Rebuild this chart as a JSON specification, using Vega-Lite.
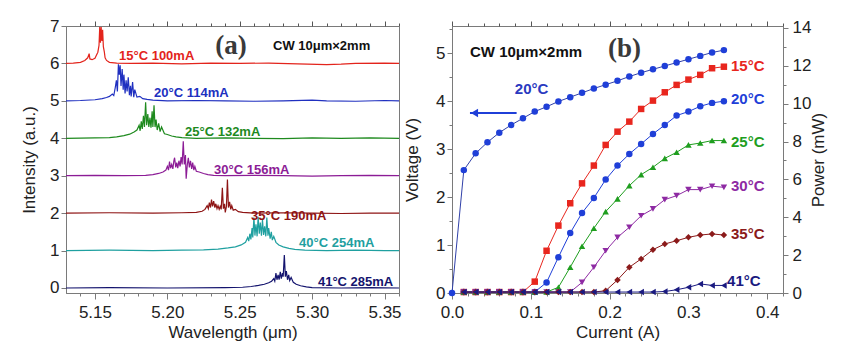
{
"$schema": "https://vega.github.io/schema/vega-lite/v6.json",
"background": "white",
"padding": {"left": 20, "top": 16, "right": 5, "bottom": 5},
"config": {
  "view": {"stroke": "#7a7a7a", "strokeWidth": 1},
  "font": "Liberation Sans",
  "axis": {"labelFont": "Liberation Sans", "titleFont": "Liberation Sans", "labelFontSize": 17, "titleFontSize": 17, "titleFontWeight": "normal", "labelColor": "#222222", "titleColor": "#222222", "domainColor": "#7a7a7a", "tickColor": "#7a7a7a", "grid": false, "labelFlush": false, "labelOverlap": false}
},
"spacing": 1,
"resolve": {"scale": {"color": "independent", "shape": "independent"}},
"hconcat": [
{
  "width": 333, "height": 267,
  "resolve": {"axis": {"x": "independent"}},
  "layer": [
    {
      "data": {"values": [
        {"s":"15","w":5.130,"i":6.00},{"s":"15","w":5.135,"i":6.01},{"s":"15","w":5.140,"i":6.03},{"s":"15","w":5.143,"i":6.08},{"s":"15","w":5.145,"i":6.15},{"s":"15","w":5.146,"i":6.26},{"s":"15","w":5.1465,"i":6.12},{"s":"15","w":5.148,"i":6.10},{"s":"15","w":5.150,"i":6.14},{"s":"15","w":5.151,"i":6.22},{"s":"15","w":5.152,"i":6.30},{"s":"15","w":5.1528,"i":6.48},{"s":"15","w":5.1533,"i":6.97},{"s":"15","w":5.1538,"i":6.55},{"s":"15","w":5.1543,"i":6.97},{"s":"15","w":5.1548,"i":6.60},{"s":"15","w":5.1553,"i":6.90},{"s":"15","w":5.1558,"i":6.45},{"s":"15","w":5.1565,"i":6.30},{"s":"15","w":5.157,"i":6.15},{"s":"15","w":5.158,"i":6.08},{"s":"15","w":5.160,"i":6.03},{"s":"15","w":5.165,"i":6.01},{"s":"15","w":5.175,"i":6.00},{"s":"15","w":5.19,"i":6.01},{"s":"15","w":5.21,"i":5.99},{"s":"15","w":5.23,"i":6.01},{"s":"15","w":5.25,"i":6.00},{"s":"15","w":5.27,"i":6.01},{"s":"15","w":5.29,"i":5.99},{"s":"15","w":5.31,"i":5.97},{"s":"15","w":5.32,"i":5.98},{"s":"15","w":5.33,"i":6.00},{"s":"15","w":5.35,"i":6.01},{"s":"15","w":5.36,"i":6.00},
        {"s":"20","w":5.130,"i":5.00},{"s":"20","w":5.14,"i":5.01},{"s":"20","w":5.15,"i":5.03},{"s":"20","w":5.155,"i":5.06},{"s":"20","w":5.158,"i":5.09},{"s":"20","w":5.160,"i":5.12},{"s":"20","w":5.162,"i":5.18},{"s":"20","w":5.163,"i":5.14},{"s":"20","w":5.164,"i":5.35},{"s":"20","w":5.1648,"i":5.55},{"s":"20","w":5.1655,"i":5.25},{"s":"20","w":5.1662,"i":5.98},{"s":"20","w":5.1668,"i":5.70},{"s":"20","w":5.1674,"i":5.95},{"s":"20","w":5.168,"i":5.40},{"s":"20","w":5.1688,"i":5.85},{"s":"20","w":5.1695,"i":5.30},{"s":"20","w":5.170,"i":5.70},{"s":"20","w":5.1708,"i":5.20},{"s":"20","w":5.1715,"i":5.55},{"s":"20","w":5.1722,"i":5.25},{"s":"20","w":5.173,"i":5.63},{"s":"20","w":5.1738,"i":5.15},{"s":"20","w":5.1745,"i":5.40},{"s":"20","w":5.175,"i":5.12},{"s":"20","w":5.176,"i":5.50},{"s":"20","w":5.1768,"i":5.10},{"s":"20","w":5.1775,"i":5.30},{"s":"20","w":5.179,"i":5.10},{"s":"20","w":5.181,"i":5.12},{"s":"20","w":5.183,"i":5.06},{"s":"20","w":5.186,"i":5.04},{"s":"20","w":5.19,"i":5.02},{"s":"20","w":5.20,"i":5.00},{"s":"20","w":5.22,"i":5.01},{"s":"20","w":5.24,"i":5.00},{"s":"20","w":5.26,"i":4.99},{"s":"20","w":5.28,"i":5.00},{"s":"20","w":5.30,"i":5.02},{"s":"20","w":5.31,"i":5.00},{"s":"20","w":5.33,"i":4.99},{"s":"20","w":5.35,"i":5.01},{"s":"20","w":5.36,"i":5.00},
        {"s":"25","w":5.130,"i":4.00},{"s":"25","w":5.15,"i":4.01},{"s":"25","w":5.16,"i":4.02},{"s":"25","w":5.165,"i":4.04},{"s":"25","w":5.170,"i":4.07},{"s":"25","w":5.174,"i":4.11},{"s":"25","w":5.177,"i":4.17},{"s":"25","w":5.179,"i":4.22},{"s":"25","w":5.1805,"i":4.35},{"s":"25","w":5.1812,"i":4.20},{"s":"25","w":5.182,"i":4.45},{"s":"25","w":5.1827,"i":4.25},{"s":"25","w":5.1835,"i":4.60},{"s":"25","w":5.1842,"i":4.30},{"s":"25","w":5.185,"i":4.96},{"s":"25","w":5.1857,"i":4.35},{"s":"25","w":5.1865,"i":4.65},{"s":"25","w":5.1872,"i":4.30},{"s":"25","w":5.188,"i":4.55},{"s":"25","w":5.1887,"i":4.28},{"s":"25","w":5.1895,"i":4.72},{"s":"25","w":5.190,"i":4.30},{"s":"25","w":5.1908,"i":4.88},{"s":"25","w":5.1915,"i":4.30},{"s":"25","w":5.1922,"i":4.50},{"s":"25","w":5.193,"i":4.22},{"s":"25","w":5.194,"i":4.40},{"s":"25","w":5.195,"i":4.18},{"s":"25","w":5.196,"i":4.30},{"s":"25","w":5.198,"i":4.12},{"s":"25","w":5.200,"i":4.10},{"s":"25","w":5.203,"i":4.06},{"s":"25","w":5.206,"i":4.04},{"s":"25","w":5.210,"i":4.02},{"s":"25","w":5.22,"i":4.00},{"s":"25","w":5.24,"i":4.01},{"s":"25","w":5.26,"i":4.00},{"s":"25","w":5.28,"i":3.99},{"s":"25","w":5.30,"i":4.01},{"s":"25","w":5.32,"i":4.00},{"s":"25","w":5.34,"i":4.01},{"s":"25","w":5.36,"i":4.00},
        {"s":"30","w":5.130,"i":3.00},{"s":"30","w":5.15,"i":3.01},{"s":"30","w":5.17,"i":3.00},{"s":"30","w":5.185,"i":3.01},{"s":"30","w":5.19,"i":3.03},{"s":"30","w":5.194,"i":3.06},{"s":"30","w":5.197,"i":3.10},{"s":"30","w":5.199,"i":3.15},{"s":"30","w":5.200,"i":3.25},{"s":"30","w":5.2008,"i":3.15},{"s":"30","w":5.2015,"i":3.38},{"s":"30","w":5.2022,"i":3.20},{"s":"30","w":5.203,"i":3.30},{"s":"30","w":5.2038,"i":3.18},{"s":"30","w":5.2045,"i":3.40},{"s":"30","w":5.205,"i":3.48},{"s":"30","w":5.2058,"i":3.22},{"s":"30","w":5.2065,"i":3.35},{"s":"30","w":5.2072,"i":3.20},{"s":"30","w":5.208,"i":3.40},{"s":"30","w":5.2088,"i":3.25},{"s":"30","w":5.2095,"i":3.50},{"s":"30","w":5.2102,"i":3.30},{"s":"30","w":5.211,"i":3.92},{"s":"30","w":5.2117,"i":3.30},{"s":"30","w":5.2125,"i":3.55},{"s":"30","w":5.213,"i":2.92},{"s":"30","w":5.2138,"i":3.30},{"s":"30","w":5.2145,"i":3.48},{"s":"30","w":5.2152,"i":3.22},{"s":"30","w":5.216,"i":3.40},{"s":"30","w":5.2168,"i":3.18},{"s":"30","w":5.2175,"i":3.35},{"s":"30","w":5.2183,"i":3.15},{"s":"30","w":5.219,"i":3.25},{"s":"30","w":5.220,"i":3.12},{"s":"30","w":5.222,"i":3.10},{"s":"30","w":5.225,"i":3.06},{"s":"30","w":5.228,"i":3.03},{"s":"30","w":5.232,"i":3.01},{"s":"30","w":5.24,"i":3.00},{"s":"30","w":5.26,"i":3.01},{"s":"30","w":5.28,"i":3.00},{"s":"30","w":5.30,"i":2.99},{"s":"30","w":5.32,"i":3.00},{"s":"30","w":5.34,"i":3.01},{"s":"30","w":5.36,"i":3.00},
        {"s":"35","w":5.130,"i":2.00},{"s":"35","w":5.16,"i":2.01},{"s":"35","w":5.19,"i":2.00},{"s":"35","w":5.21,"i":2.01},{"s":"35","w":5.22,"i":2.02},{"s":"35","w":5.224,"i":2.05},{"s":"35","w":5.226,"i":2.10},{"s":"35","w":5.2275,"i":2.20},{"s":"35","w":5.2283,"i":2.12},{"s":"35","w":5.229,"i":2.28},{"s":"35","w":5.2298,"i":2.15},{"s":"35","w":5.2305,"i":2.36},{"s":"35","w":5.2312,"i":2.18},{"s":"35","w":5.232,"i":2.32},{"s":"35","w":5.2328,"i":2.15},{"s":"35","w":5.2335,"i":2.25},{"s":"35","w":5.2343,"i":2.12},{"s":"35","w":5.235,"i":2.20},{"s":"35","w":5.2358,"i":2.10},{"s":"35","w":5.2365,"i":2.18},{"s":"35","w":5.2372,"i":2.10},{"s":"35","w":5.238,"i":2.68},{"s":"35","w":5.2387,"i":2.12},{"s":"35","w":5.2395,"i":2.25},{"s":"35","w":5.240,"i":2.02},{"s":"35","w":5.2408,"i":2.18},{"s":"35","w":5.2415,"i":2.90},{"s":"35","w":5.2422,"i":2.15},{"s":"35","w":5.243,"i":2.30},{"s":"35","w":5.2438,"i":2.10},{"s":"35","w":5.2445,"i":2.20},{"s":"35","w":5.2455,"i":2.08},{"s":"35","w":5.247,"i":2.10},{"s":"35","w":5.249,"i":2.04},{"s":"35","w":5.252,"i":2.02},{"s":"35","w":5.26,"i":2.00},{"s":"35","w":5.28,"i":2.01},{"s":"35","w":5.30,"i":2.00},{"s":"35","w":5.32,"i":1.99},{"s":"35","w":5.34,"i":2.00},{"s":"35","w":5.36,"i":2.00},
        {"s":"40","w":5.130,"i":1.00},{"s":"40","w":5.16,"i":1.01},{"s":"40","w":5.19,"i":1.00},{"s":"40","w":5.21,"i":1.01},{"s":"40","w":5.225,"i":1.02},{"s":"40","w":5.235,"i":1.04},{"s":"40","w":5.242,"i":1.07},{"s":"40","w":5.247,"i":1.10},{"s":"40","w":5.251,"i":1.15},{"s":"40","w":5.254,"i":1.22},{"s":"40","w":5.2555,"i":1.35},{"s":"40","w":5.2562,"i":1.25},{"s":"40","w":5.257,"i":1.45},{"s":"40","w":5.2577,"i":1.30},{"s":"40","w":5.2585,"i":1.60},{"s":"40","w":5.259,"i":1.35},{"s":"40","w":5.2598,"i":1.88},{"s":"40","w":5.2605,"i":1.40},{"s":"40","w":5.2612,"i":1.70},{"s":"40","w":5.262,"i":1.38},{"s":"40","w":5.2627,"i":1.90},{"s":"40","w":5.2635,"i":1.45},{"s":"40","w":5.2642,"i":1.75},{"s":"40","w":5.265,"i":1.40},{"s":"40","w":5.2657,"i":1.82},{"s":"40","w":5.2665,"i":1.42},{"s":"40","w":5.2672,"i":1.65},{"s":"40","w":5.268,"i":1.38},{"s":"40","w":5.2687,"i":1.88},{"s":"40","w":5.2695,"i":1.40},{"s":"40","w":5.270,"i":1.60},{"s":"40","w":5.271,"i":1.32},{"s":"40","w":5.2718,"i":1.50},{"s":"40","w":5.2725,"i":1.28},{"s":"40","w":5.2735,"i":1.38},{"s":"40","w":5.275,"i":1.22},{"s":"40","w":5.277,"i":1.15},{"s":"40","w":5.280,"i":1.10},{"s":"40","w":5.284,"i":1.06},{"s":"40","w":5.288,"i":1.03},{"s":"40","w":5.295,"i":1.01},{"s":"40","w":5.31,"i":1.00},{"s":"40","w":5.33,"i":1.01},{"s":"40","w":5.35,"i":1.00},{"s":"40","w":5.36,"i":1.00},
        {"s":"41","w":5.130,"i":0.00},{"s":"41","w":5.16,"i":0.01},{"s":"41","w":5.20,"i":0.00},{"s":"41","w":5.24,"i":0.01},{"s":"41","w":5.252,"i":0.02},{"s":"41","w":5.258,"i":0.04},{"s":"41","w":5.263,"i":0.07},{"s":"41","w":5.267,"i":0.10},{"s":"41","w":5.270,"i":0.14},{"s":"41","w":5.272,"i":0.18},{"s":"41","w":5.2735,"i":0.25},{"s":"41","w":5.2742,"i":0.18},{"s":"41","w":5.275,"i":0.40},{"s":"41","w":5.2757,"i":0.22},{"s":"41","w":5.2765,"i":0.35},{"s":"41","w":5.2772,"i":0.22},{"s":"41","w":5.278,"i":0.43},{"s":"41","w":5.2787,"i":0.25},{"s":"41","w":5.2795,"i":0.40},{"s":"41","w":5.280,"i":0.30},{"s":"41","w":5.2808,"i":0.88},{"s":"41","w":5.2815,"i":0.30},{"s":"41","w":5.2822,"i":0.45},{"s":"41","w":5.283,"i":0.22},{"s":"41","w":5.2838,"i":0.35},{"s":"41","w":5.2845,"i":0.20},{"s":"41","w":5.2855,"i":0.28},{"s":"41","w":5.287,"i":0.15},{"s":"41","w":5.289,"i":0.10},{"s":"41","w":5.292,"i":0.06},{"s":"41","w":5.296,"i":0.03},{"s":"41","w":5.30,"i":0.01},{"s":"41","w":5.32,"i":0.00},{"s":"41","w":5.34,"i":0.01},{"s":"41","w":5.36,"i":0.00}
      ]},
      "mark": {"type": "line", "strokeWidth": 1.2},
      "encoding": {
        "x": {"field": "w", "type": "quantitative", "scale": {"domain": [5.13, 5.36], "nice": false, "zero": false},
              "axis": {"title": "Wavelength (μm)", "tickCount": 100, "values": [5.14,5.15,5.16,5.17,5.18,5.19,5.2,5.21,5.22,5.23,5.24,5.25,5.26,5.27,5.28,5.29,5.3,5.31,5.32,5.33,5.34,5.35,5.36],
                       "labelExpr": "round(datum.value*100)%5==0 ? format(datum.value,'.2f') : ''", "labelOverlap": false,
                       "tickSize": {"condition": {"test": "round(datum.value*100)%5==0", "value": 6}, "value": 3},
                       "labelPadding": 5, "titlePadding": 4}},
        "y": {"field": "i", "type": "quantitative", "scale": {"domain": [-0.134, 7], "nice": false, "zero": false},
              "axis": {"title": "Intensity (a.u.)", "tickCount": 100, "format": "d", "values": [0,1,2,3,4,5,6,7], "labelOverlap": false, "tickSize": 5, "labelPadding": 2, "titlePadding": 11}},
        "color": {"field": "s", "type": "nominal", "legend": null,
                  "scale": {"domain": ["15","20","25","30","35","40","41"], "range": ["#e3241c","#2030c0","#1e8a1e","#8c1c96","#8e1414","#1fa0a0","#14146e"]}}
      }
    },
    {
      "data": {"values": [
        {"s":"15","t":"15°C  100mA","w":5.1666,"i":6.19},
        {"s":"20","t":"20°C  114mA","w":5.1908,"i":5.20},
        {"s":"25","t":"25°C  132mA","w":5.2122,"i":4.18},
        {"s":"30","t":"30°C  156mA","w":5.2323,"i":3.16},
        {"s":"35","t":"35°C  190mA","w":5.2578,"i":1.93},
        {"s":"40","t":"40°C  254mA","w":5.2910,"i":1.21},
        {"s":"41","t":"41°C  285mA","w":5.3040,"i":0.16}
      ]},
      "mark": {"type": "text", "align": "left", "baseline": "middle", "fontSize": 13, "fontWeight": "bold", "font": "Liberation Sans"},
      "encoding": {
        "x": {"field": "w", "type": "quantitative", "axis": {"orient": "top", "title": null, "labels": false, "domain": false, "tickCount": 100, "tickColor": "#555555",
              "values": [5.14,5.15,5.16,5.17,5.18,5.19,5.2,5.21,5.22,5.23,5.24,5.25,5.26,5.27,5.28,5.29,5.3,5.31,5.32,5.33,5.34,5.35,5.36],
              "tickSize": {"condition": {"test": "round(datum.value*100)%5==0", "value": 5}, "value": 3}}},
        "y": {"field": "i", "type": "quantitative"},
        "text": {"field": "t"},
        "color": {"field": "s", "type": "nominal", "legend": null}
      }
    },
    {
      "data": {"values": [{"t":"(a)","w":5.244,"i":6.46}]},
      "mark": {"type": "text", "align": "center", "baseline": "middle", "fontSize": 27, "fontWeight": "bold", "font": "Liberation Serif", "color": "#3a3a3a"},
      "encoding": {"x": {"field": "w", "type": "quantitative", "axis": null}, "y": {"field": "i", "type": "quantitative"}, "text": {"field": "t"}}
    },
    {
      "data": {"values": [{"t":"CW   10μm×2mm","w":5.273,"i":6.46}]},
      "mark": {"type": "text", "align": "left", "baseline": "middle", "fontSize": 13, "fontWeight": "bold", "font": "Liberation Sans", "color": "#111111"},
      "encoding": {"x": {"field": "w", "type": "quantitative", "axis": null}, "y": {"field": "i", "type": "quantitative"}, "text": {"field": "t"}}
    }
  ]
},
{
  "width": 331, "height": 267,
  "resolve": {"scale": {"y": "independent"}, "axis": {"x": "independent"}},
  "layer": [
    {
      "layer": [
        {
          "data": {"values": [
            {"c":0,"v":0},{"c":0.015,"v":2.56},{"c":0.03,"v":2.91},{"c":0.045,"v":3.14},{"c":0.06,"v":3.34},{"c":0.075,"v":3.50},{"c":0.09,"v":3.64},{"c":0.105,"v":3.78},{"c":0.12,"v":3.88},{"c":0.135,"v":3.99},{"c":0.15,"v":4.08},{"c":0.165,"v":4.17},{"c":0.18,"v":4.26},{"c":0.195,"v":4.34},{"c":0.21,"v":4.42},{"c":0.225,"v":4.51},{"c":0.24,"v":4.59},{"c":0.255,"v":4.66},{"c":0.27,"v":4.73},{"c":0.285,"v":4.80},{"c":0.30,"v":4.87},{"c":0.315,"v":4.94},{"c":0.33,"v":5.01},{"c":0.345,"v":5.06}
          ]},
          "layer": [
            {
              "mark": {"type": "line", "strokeWidth": 1, "color": "#3040a8"},
              "encoding": {
                "x": {"field": "c", "type": "quantitative", "scale": {"domain": [0, 0.42], "nice": false, "zero": false},
                      "axis": {"title": "Current (A)", "tickCount": 100, "values": [0,0.02,0.04,0.06,0.08,0.1,0.12,0.14,0.16,0.18,0.2,0.22,0.24,0.26,0.28,0.3,0.32,0.34,0.36,0.38,0.4,0.42],
                               "labelExpr": "round(datum.value*100)%10==0 ? format(datum.value,'.1f') : ''", "labelOverlap": false,
                               "tickSize": {"condition": {"test": "round(datum.value*100)%10==0", "value": 6}, "value": 3},
                               "labelPadding": 5, "titlePadding": 4}},
                "y": {"field": "v", "type": "quantitative", "scale": {"domain": [0, 5.5625], "nice": false, "zero": false},
                      "axis": {"title": "Voltage (V)", "tickCount": 100, "values": [0,0.5,1,1.5,2,2.5,3,3.5,4,4.5,5,5.5],
                               "labelExpr": "datum.value%1==0 ? format(datum.value,'d') : ''", "labelOverlap": false,
                               "tickSize": {"condition": {"test": "datum.value%1==0", "value": 5}, "value": 3},
                               "labelPadding": 2, "titlePadding": 14}}
              }
            },
            {
              "mark": {"type": "point", "filled": true, "shape": "circle", "size": 42, "opacity": 1, "color": "#1f3fd8"},
              "encoding": {
                "x": {"field": "c", "type": "quantitative"},
                "y": {"field": "v", "type": "quantitative"}
              }
            }
          ]
        },
        {
          "data": {"values": [{"c":0.0228,"c2":0.082,"v":3.75}]},
          "mark": {"type": "rule", "strokeWidth": 2, "color": "#1f3fd8"},
          "encoding": {"x": {"field": "c", "type": "quantitative"}, "x2": {"field": "c2"}, "y": {"field": "v", "type": "quantitative"}}
        },
        {
          "data": {"values": [{"c":0.0285,"v":3.75}]},
          "mark": {"type": "point", "shape": "triangle-left", "filled": true, "size": 70, "opacity": 1, "color": "#1f3fd8"},
          "encoding": {"x": {"field": "c", "type": "quantitative"}, "y": {"field": "v", "type": "quantitative"}}
        },
        {
          "data": {"values": [{"t":"20°C","c":0.101,"v":4.25}]},
          "mark": {"type": "text", "align": "center", "baseline": "middle", "fontSize": 15, "fontWeight": "bold", "font": "Liberation Sans", "color": "#2a3ac0"},
          "encoding": {"x": {"field": "c", "type": "quantitative"}, "y": {"field": "v", "type": "quantitative"}, "text": {"field": "t"}}
        },
        {
          "data": {"values": [{"t":"CW  10μm×2mm","c":0.0228,"v":5.02}]},
          "mark": {"type": "text", "align": "left", "baseline": "middle", "fontSize": 15, "fontWeight": "bold", "font": "Liberation Sans", "color": "#111111"},
          "encoding": {"x": {"field": "c", "type": "quantitative"}, "y": {"field": "v", "type": "quantitative"}, "text": {"field": "t"}}
        },
        {
          "data": {"values": [{"t":"(b)","c":0.219,"v":5.08}]},
          "mark": {"type": "text", "align": "center", "baseline": "middle", "fontSize": 27, "fontWeight": "bold", "font": "Liberation Serif", "color": "#3a3a3a"},
          "encoding": {"x": {"field": "c", "type": "quantitative"}, "y": {"field": "v", "type": "quantitative"}, "text": {"field": "t"}}
        }
      ]
    },
    {
      "layer": [
        {
          "data": {"values": [
            {"T":"15°C","c":0.015,"p":0.05},{"T":"15°C","c":0.03,"p":0.05},{"T":"15°C","c":0.045,"p":0.05},{"T":"15°C","c":0.06,"p":0.05},{"T":"15°C","c":0.075,"p":0.05},{"T":"15°C","c":0.09,"p":0.05},{"T":"15°C","c":0.105,"p":0.60},{"T":"15°C","c":0.12,"p":2.23},{"T":"15°C","c":0.135,"p":3.56},{"T":"15°C","c":0.15,"p":4.74},{"T":"15°C","c":0.165,"p":5.79},{"T":"15°C","c":0.18,"p":6.73},{"T":"15°C","c":0.195,"p":7.82},{"T":"15°C","c":0.21,"p":8.52},{"T":"15°C","c":0.225,"p":9.05},{"T":"15°C","c":0.24,"p":9.72},{"T":"15°C","c":0.255,"p":10.16},{"T":"15°C","c":0.27,"p":10.60},{"T":"15°C","c":0.285,"p":10.99},{"T":"15°C","c":0.30,"p":11.27},{"T":"15°C","c":0.315,"p":11.52},{"T":"15°C","c":0.33,"p":11.87},{"T":"15°C","c":0.345,"p":11.95},
            {"T":"20°C","c":0.015,"p":0.05},{"T":"20°C","c":0.03,"p":0.05},{"T":"20°C","c":0.045,"p":0.05},{"T":"20°C","c":0.06,"p":0.05},{"T":"20°C","c":0.075,"p":0.05},{"T":"20°C","c":0.09,"p":0.05},{"T":"20°C","c":0.105,"p":0.05},{"T":"20°C","c":0.12,"p":0.56},{"T":"20°C","c":0.135,"p":1.89},{"T":"20°C","c":0.15,"p":3.17},{"T":"20°C","c":0.165,"p":4.23},{"T":"20°C","c":0.18,"p":5.02},{"T":"20°C","c":0.195,"p":5.99},{"T":"20°C","c":0.21,"p":6.73},{"T":"20°C","c":0.225,"p":7.34},{"T":"20°C","c":0.24,"p":7.87},{"T":"20°C","c":0.255,"p":8.40},{"T":"20°C","c":0.27,"p":8.87},{"T":"20°C","c":0.285,"p":9.37},{"T":"20°C","c":0.30,"p":9.58},{"T":"20°C","c":0.315,"p":9.86},{"T":"20°C","c":0.33,"p":10.04},{"T":"20°C","c":0.345,"p":10.13},
            {"T":"25°C","c":0.015,"p":0.05},{"T":"25°C","c":0.03,"p":0.05},{"T":"25°C","c":0.045,"p":0.05},{"T":"25°C","c":0.06,"p":0.05},{"T":"25°C","c":0.075,"p":0.05},{"T":"25°C","c":0.09,"p":0.05},{"T":"25°C","c":0.105,"p":0.05},{"T":"25°C","c":0.12,"p":0.05},{"T":"25°C","c":0.135,"p":0.30},{"T":"25°C","c":0.15,"p":1.36},{"T":"25°C","c":0.165,"p":2.47},{"T":"25°C","c":0.18,"p":3.42},{"T":"25°C","c":0.195,"p":4.30},{"T":"25°C","c":0.21,"p":4.97},{"T":"25°C","c":0.225,"p":5.67},{"T":"25°C","c":0.24,"p":6.25},{"T":"25°C","c":0.255,"p":6.64},{"T":"25°C","c":0.27,"p":7.11},{"T":"25°C","c":0.285,"p":7.43},{"T":"25°C","c":0.30,"p":7.82},{"T":"25°C","c":0.315,"p":7.92},{"T":"25°C","c":0.33,"p":8.05},{"T":"25°C","c":0.345,"p":8.05},
            {"T":"30°C","c":0.015,"p":0.05},{"T":"30°C","c":0.03,"p":0.05},{"T":"30°C","c":0.045,"p":0.05},{"T":"30°C","c":0.06,"p":0.05},{"T":"30°C","c":0.075,"p":0.05},{"T":"30°C","c":0.09,"p":0.05},{"T":"30°C","c":0.105,"p":0.05},{"T":"30°C","c":0.12,"p":0.05},{"T":"30°C","c":0.135,"p":0.05},{"T":"30°C","c":0.15,"p":0.05},{"T":"30°C","c":0.165,"p":0.56},{"T":"30°C","c":0.18,"p":1.36},{"T":"30°C","c":0.195,"p":2.23},{"T":"30°C","c":0.21,"p":2.94},{"T":"30°C","c":0.225,"p":3.47},{"T":"30°C","c":0.24,"p":4.08},{"T":"30°C","c":0.255,"p":4.44},{"T":"30°C","c":0.27,"p":4.93},{"T":"30°C","c":0.285,"p":5.14},{"T":"30°C","c":0.30,"p":5.46},{"T":"30°C","c":0.315,"p":5.46},{"T":"30°C","c":0.33,"p":5.64},{"T":"30°C","c":0.345,"p":5.58},
            {"T":"35°C","c":0.015,"p":0.05},{"T":"35°C","c":0.03,"p":0.05},{"T":"35°C","c":0.045,"p":0.05},{"T":"35°C","c":0.06,"p":0.05},{"T":"35°C","c":0.075,"p":0.05},{"T":"35°C","c":0.09,"p":0.05},{"T":"35°C","c":0.105,"p":0.05},{"T":"35°C","c":0.12,"p":0.05},{"T":"35°C","c":0.135,"p":0.05},{"T":"35°C","c":0.15,"p":0.05},{"T":"35°C","c":0.165,"p":0.05},{"T":"35°C","c":0.18,"p":0.05},{"T":"35°C","c":0.195,"p":0.12},{"T":"35°C","c":0.21,"p":0.69},{"T":"35°C","c":0.225,"p":1.36},{"T":"35°C","c":0.24,"p":1.80},{"T":"35°C","c":0.255,"p":2.29},{"T":"35°C","c":0.27,"p":2.59},{"T":"35°C","c":0.285,"p":2.76},{"T":"35°C","c":0.30,"p":2.94},{"T":"35°C","c":0.315,"p":3.06},{"T":"35°C","c":0.33,"p":3.12},{"T":"35°C","c":0.345,"p":3.06},
            {"T":"41°C","c":0.015,"p":0.05},{"T":"41°C","c":0.03,"p":0.05},{"T":"41°C","c":0.045,"p":0.05},{"T":"41°C","c":0.06,"p":0.05},{"T":"41°C","c":0.075,"p":0.05},{"T":"41°C","c":0.09,"p":0.05},{"T":"41°C","c":0.105,"p":0.05},{"T":"41°C","c":0.12,"p":0.05},{"T":"41°C","c":0.135,"p":0.05},{"T":"41°C","c":0.15,"p":0.05},{"T":"41°C","c":0.165,"p":0.05},{"T":"41°C","c":0.18,"p":0.05},{"T":"41°C","c":0.195,"p":0.05},{"T":"41°C","c":0.21,"p":0.05},{"T":"41°C","c":0.225,"p":0.05},{"T":"41°C","c":0.24,"p":0.05},{"T":"41°C","c":0.255,"p":0.05},{"T":"41°C","c":0.27,"p":0.08},{"T":"41°C","c":0.285,"p":0.17},{"T":"41°C","c":0.30,"p":0.30},{"T":"41°C","c":0.315,"p":0.48},{"T":"41°C","c":0.33,"p":0.40},{"T":"41°C","c":0.345,"p":0.40}
          ]},
          "layer": [
            {
              "mark": {"type": "line", "strokeWidth": 1},
              "encoding": {
                "x": {"field": "c", "type": "quantitative", "scale": {"domain": [0, 0.42], "nice": false, "zero": false},
                      "axis": {"orient": "top", "title": null, "labels": false, "domain": false, "tickCount": 100, "tickColor": "#555555",
                               "values": [0,0.02,0.04,0.06,0.08,0.1,0.12,0.14,0.16,0.18,0.2,0.22,0.24,0.26,0.28,0.3,0.32,0.34,0.36,0.38,0.4,0.42],
                               "tickSize": {"condition": {"test": "round(datum.value*100)%10==0", "value": 5}, "value": 3}}},
                "y": {"field": "p", "type": "quantitative", "scale": {"domain": [0, 14.1], "nice": false, "zero": false},
                      "axis": {"orient": "right", "title": "Power (mW)", "titleAngle": 270, "tickCount": 100, "values": [0,1,2,3,4,5,6,7,8,9,10,11,12,13,14],
                               "labelExpr": "datum.value%2==0 ? format(datum.value,'d') : ''", "labelOverlap": false,
                               "tickSize": {"condition": {"test": "datum.value%2==0", "value": 5}, "value": 3},
                               "labelPadding": 4, "titlePadding": 17}},
                "color": {"field": "T", "type": "nominal", "legend": null,
                          "scale": {"domain": ["15°C","20°C","25°C","30°C","35°C","41°C"], "range": ["#e8261e","#1f3fd8","#1f9e1f","#8e2aa3","#8b1a1a","#1a1a80"]}}
              }
            },
            {
              "mark": {"type": "point", "filled": true, "size": 42, "opacity": 1},
              "encoding": {
                "x": {"field": "c", "type": "quantitative"},
                "y": {"field": "p", "type": "quantitative"},
                "color": {"field": "T", "type": "nominal", "legend": null},
                "shape": {"field": "T", "type": "nominal", "legend": null,
                          "scale": {"domain": ["15°C","20°C","25°C","30°C","35°C","41°C"], "range": ["square","circle","triangle-up","triangle-down","diamond","triangle-left"]}}
              }
            }
          ]
        },
        {
          "data": {"values": [
            {"T":"15°C","c":0.354,"p":12.0},{"T":"20°C","c":0.354,"p":10.25},{"T":"25°C","c":0.354,"p":7.98},{"T":"30°C","c":0.354,"p":5.65},{"T":"35°C","c":0.354,"p":3.12},{"T":"41°C","c":0.349,"p":0.65}
          ]},
          "mark": {"type": "text", "align": "left", "baseline": "middle", "fontSize": 15, "fontWeight": "bold", "font": "Liberation Sans"},
          "encoding": {
            "x": {"field": "c", "type": "quantitative"},
            "y": {"field": "p", "type": "quantitative"},
            "text": {"field": "T"},
            "color": {"field": "T", "type": "nominal", "legend": null}
          }
        }
      ]
    }
  ]
}
]
}
